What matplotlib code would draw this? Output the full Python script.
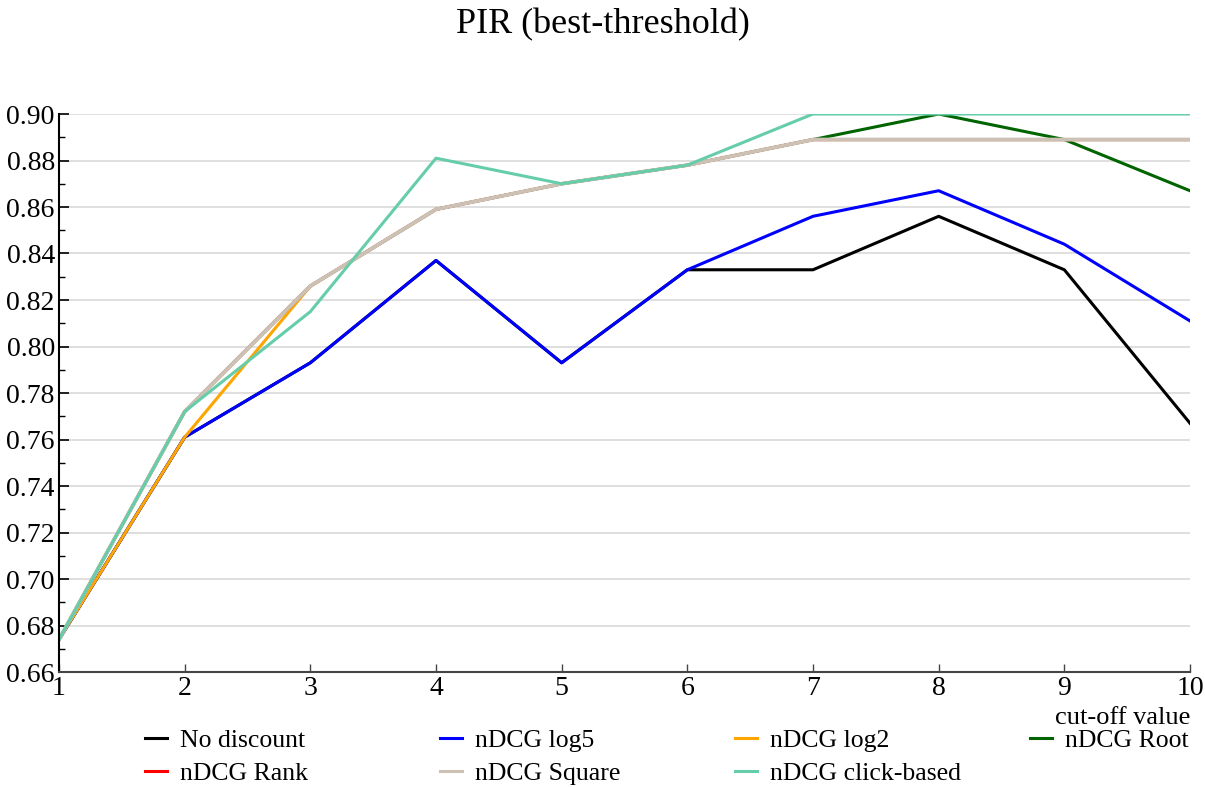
import matplotlib.pyplot as plt
from matplotlib.lines import Line2D
from matplotlib.ticker import MultipleLocator

plt.rcParams['font.family'] = ['Liberation Serif', 'DejaVu Serif']

cutoff = [1, 2, 3, 4, 5, 6, 7, 8, 9, 10]

# series values
no_discount = [0.674, 0.761, 0.793, 0.837, 0.793, 0.833, 0.833, 0.856, 0.833, 0.767]
ndcg_log5 = [0.674, 0.761, 0.793, 0.837, 0.793, 0.833, 0.856, 0.867, 0.844, 0.811]
ndcg_log2 = [0.674, 0.761, 0.826, 0.859, 0.870, 0.878, 0.889, 0.889, 0.889, 0.889]
ndcg_root = [0.674, 0.772, 0.826, 0.859, 0.870, 0.878, 0.889, 0.900, 0.889, 0.867]
ndcg_rank = [0.674, 0.772, 0.826, 0.859, 0.870, 0.878, 0.889, 0.889, 0.889, 0.889]
ndcg_square = [0.674, 0.772, 0.826, 0.859, 0.870, 0.878, 0.889, 0.889, 0.889, 0.889]
ndcg_click = [0.674, 0.772, 0.815, 0.881, 0.870, 0.878, 0.900, 0.900, 0.900, 0.900]

labels = ['No discount', 'nDCG log5', 'nDCG log2', 'nDCG Root',
          'nDCG Rank', 'nDCG Square', 'nDCG click-based']
colors = ['#000000', '#0000ff', '#ffa500', '#006400',
          '#ff0000', '#ccc1b4', '#66cdaa']
widths = [2.2, 2.2, 2.2, 2.2, 2.2, 2.8, 2.2]
series = [no_discount, ndcg_log5, ndcg_log2, ndcg_root,
          ndcg_rank, ndcg_square, ndcg_click]

fig = plt.figure(figsize=(12.05, 7.87), dpi=100)
ax = fig.add_axes([59 / 1205, 1 - 672 / 787, (1190 - 59) / 1205, (672 - 114) / 787])

for vals, c, w, lab in zip(series, colors, widths, labels):
    ax.plot(cutoff, vals, color=c, lw=w, label=lab)

ax.set_xlim(1, 10)
ax.set_ylim(0.66, 0.90)
ax.set_xticks(cutoff)
ax.yaxis.set_major_locator(MultipleLocator(0.02))
ax.yaxis.set_minor_locator(MultipleLocator(0.01))
ax.yaxis.set_major_formatter(lambda v, p: f'{v:.2f}')
ax.tick_params(axis='both', which='both', direction='in', labelsize=20)
ax.tick_params(axis='y', which='major', length=7, width=1.2, pad=3)
ax.tick_params(axis='y', which='minor', length=4, width=1)
ax.tick_params(axis='x', length=6, width=1, pad=3, colors='#444444', labelcolor='black')
ax.grid(True, axis='y', color='#d9d9d9', lw=1.2)
ax.set_axisbelow(True)
for s in ['top', 'right']:
    ax.spines[s].set_visible(False)
ax.spines['left'].set_linewidth(1.5)
ax.spines['bottom'].set_linewidth(1.5)
ax.spines['bottom'].set_color('#444444')

ax.text(1.0, -0.062, 'cut-off value', transform=ax.transAxes,
        ha='right', va='top', fontsize=19)

fig.suptitle('PIR (best-threshold)', fontsize=26, y=0.99)

# legend laid out as 4 evenly spaced columns, filled row by row
col_x = [145, 440, 735, 1030]
for j in range(4):
    idx = [i for i in range(len(labels)) if i % 4 == j]
    handles = [Line2D([], [], color=colors[i], lw=2.2) for i in idx]
    fig.legend(handles, [labels[i] for i in idx], loc='upper left',
               bbox_to_anchor=(col_x[j] / 1205, 1 - 729 / 787),
               frameon=False, fontsize=18.5, handlelength=0.85,
               handletextpad=0.5, labelspacing=0.38, borderpad=0,
               borderaxespad=0)

fig.savefig('out.png', dpi=100)
